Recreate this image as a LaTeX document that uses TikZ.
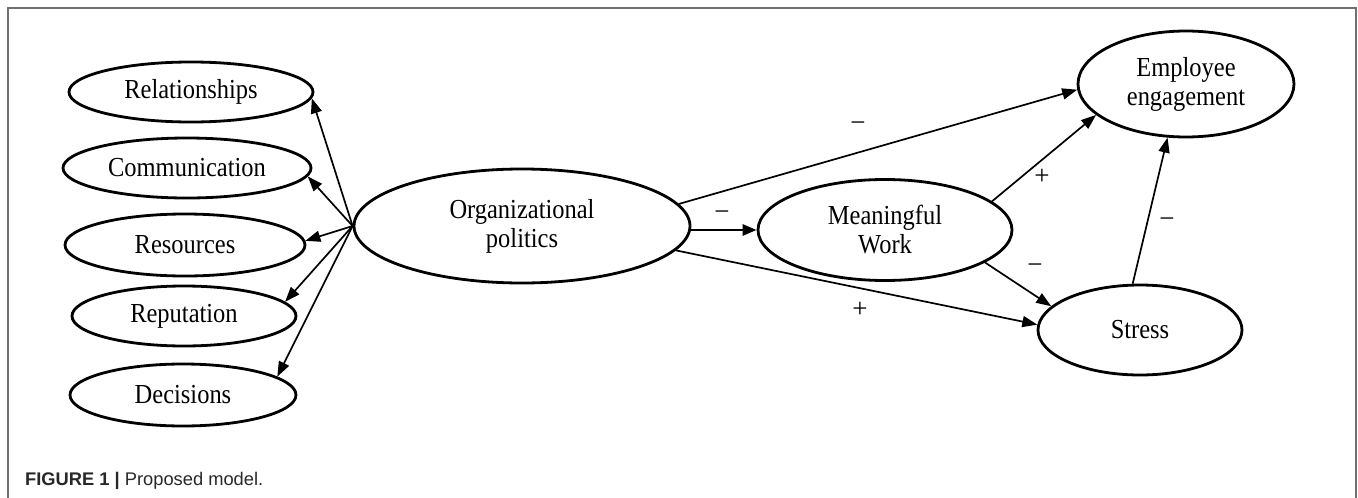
\documentclass[tikz,border=0pt]{standalone}
\usepackage{fontspec}
\setmainfont{Liberation Serif}
\newfontfamily\nodefont[FakeStretch=0.89]{Liberation Serif}
\newfontfamily\capfont{Liberation Sans}
\usetikzlibrary{shapes.geometric,arrows.meta}
\definecolor{framegray}{RGB}{112,112,112}
\definecolor{captext}{RGB}{40,40,40}
\begin{document}
\begin{tikzpicture}[x=1pt,y=-1pt,
  construct/.style={ellipse, draw, line width=2.8pt, inner sep=0pt, align=center,
    font=\nodefont\fontsize{27.5}{29}\selectfont},
  link/.style={line width=1.7pt, -{Triangle[length=15pt,width=11pt]}},
  boldlink/.style={line width=2.8pt, -{Triangle[length=14pt,width=11pt]}},
  sign/.style={inner sep=0pt, font=\fontsize{27}{27}\selectfont},
  frame/.style={draw=framegray, line width=1.5pt}]
\useasboundingbox (0,0) rectangle (1358,498);
\path[fill=white] (0,0) rectangle (1358,498);
% panel frame, open at the bottom
\draw[frame] (8,498) -- (8,8) -- (1356,8) -- (1356,498);

% dimensions of organizational politics
\node[construct, minimum width=244pt, minimum height=60pt] (rel) at (191,92) {Relationships};
\node[construct, minimum width=248pt, minimum height=60pt] (com) at (187,168) {Communication};
\node[construct, minimum width=240pt, minimum height=62pt] (res) at (185,245) {Resources};
\node[construct, minimum width=224pt, minimum height=60pt] (rep) at (184,316) {Reputation};
\node[construct, minimum width=226pt, minimum height=62pt] (dec) at (183,395) {Decisions};

% main constructs
\node[construct, minimum width=336pt, minimum height=114pt] (op) at (522,226) {Organizational\\politics};
\node[construct, minimum width=254pt, minimum height=101pt] (mw) at (885,230) {Meaningful\\Work};
\node[construct, minimum width=216pt, minimum height=106pt] (ee) at (1186,84) {Employee\\engagement};
\node[construct, minimum width=204pt, minimum height=90pt] (st) at (1140,330) {Stress};

% fan of arrows to the dimensions
\draw[link] (op.west) -- (rel.-3);
\draw[link] (op.west) -- (com.-4);
\draw[link] (op.west) -- (res.2);
\draw[link] (op.west) -- (rep.8);
\draw[link] (op.west) -- (dec.11);

% structural paths
\draw[boldlink] (op.east |- mw.west) -- (mw.west);
\draw[link] (op.8) -- (ee.183);
\draw[link] (op.-9) -- (st.177);
\draw[link] (mw.15) -- (ee.199);
\draw[link] (mw.-18) -- (st.165);
\draw[link] (st.99) -- (ee.251);

% path signs
\node[sign] (s1) at (722,216) {\char"2212};
\node[sign] (s2) at (858,127) {\char"2212};
\node[sign] (s3) at (860,310) {+};
\node[sign] (s4) at (1042,177) {+};
\node[sign] (s5) at (1035,269) {\char"2212};
\node[sign] (s6) at (1167,223) {\char"2212};

% caption
\node[anchor=base west, inner sep=0pt, text=captext,
  font=\capfont\fontsize{18.3}{18.3}\selectfont] (cap) at (25,485)
  {\textbf{FIGURE 1 |} Proposed model.};
\end{tikzpicture}
\end{document}
